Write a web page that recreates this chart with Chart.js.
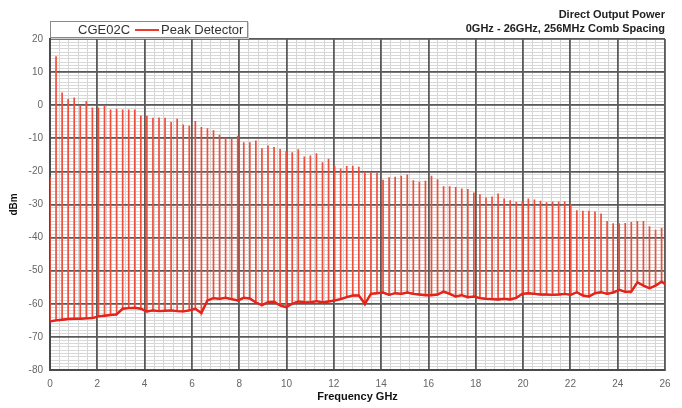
<!DOCTYPE html>
<html lang="en">
<head>
<meta charset="UTF-8">
<title>CGE02C Direct Output Power</title>
<script src="https://cdn.jsdelivr.net/npm/chart.js"></script>
<style>
  body { margin: 0; background: #fff; font-family: "Liberation Sans", Arial, sans-serif; }
  .wrap { position: relative; width: 682px; height: 408px; }
  .legend {
    position: absolute; left: 50px; top: 21px; width: 196px; height: 15px;
    border: 1px solid #8a8a8a; background: #fff; box-shadow: 1px 1px 0 #cfcfcf;
    font-size: 13px; line-height: 15px; color: #333; white-space: nowrap;
  }
  .legend .name { position: absolute; left: 27px; top: 0; }
  .legend .swatch { position: absolute; left: 84px; top: 7px; width: 24px; height: 2px; background: #ee3a2c; }
  .legend .label { position: absolute; left: 110px; top: 0; }
  .title {
    position: absolute; right: 17px; top: 7px; text-align: right;
    font-size: 11px; font-weight: bold; line-height: 14px; color: #222;
  }
</style>
</head>
<body>
<div class="wrap">
  <canvas id="chart" width="682" height="408"></canvas>
  <div class="legend"><span class="name">CGE02C</span><span class="swatch"></span><span class="label">Peak Detector</span></div>
  <div class="title">Direct Output Power<br>0GHz - 26GHz, 256MHz Comb Spacing</div>
</div>
<script>
  // comb tooth frequencies (GHz), 256 MHz spacing
  const combFreq = [0, 0.256, 0.512, 0.768, 1.024, 1.28, 1.536, 1.792, 2.048, 2.304, 2.56, 2.816,
    3.072, 3.328, 3.584, 3.84, 4.096, 4.352, 4.608, 4.864, 5.12, 5.376, 5.632, 5.888, 6.144, 6.4,
    6.656, 6.912, 7.168, 7.424, 7.68, 7.936, 8.192, 8.448, 8.704, 8.96, 9.216, 9.472, 9.728, 9.984,
    10.24, 10.496, 10.752, 11.008, 11.264, 11.52, 11.776, 12.032, 12.288, 12.544, 12.8, 13.056,
    13.312, 13.568, 13.824, 14.08, 14.336, 14.592, 14.848, 15.104, 15.36, 15.616, 15.872, 16.128,
    16.384, 16.64, 16.896, 17.152, 17.408, 17.664, 17.92, 18.176, 18.432, 18.688, 18.944, 19.2,
    19.456, 19.712, 19.968, 20.224, 20.48, 20.736, 20.992, 21.248, 21.504, 21.76, 22.016, 22.272,
    22.528, 22.784, 23.04, 23.296, 23.552, 23.808, 24.064, 24.32, 24.576, 24.832, 25.088, 25.344,
    25.6, 25.856];

  // peak level of each tooth (dBm)
  const peakDbm = [-21.7, 14.8, 3.8, 1.9, 2.3, -0.2, 1.3, -0.7, -0.7, -0.1, -1.3, -1.1,
    -1.3, -1.3, -1.3, -3.1, -3.2, -3.8, -3.7, -3.8, -5.1, -4.1, -5.8, -6.2, -4.8, -6.6,
    -7.0, -7.6, -8.9, -9.8, -10.2, -9.2, -11.2, -11.2, -10.7, -13.0, -12.2, -12.6, -13.2, -13.9,
    -14.2, -13.3, -15.5, -15.2, -14.5, -17.2, -16.2, -18.3, -19.1, -18.4, -18.3, -18.6,
    -20.1, -20.3, -20.4, -22.5, -21.8, -21.6, -21.3, -20.9, -22.7, -23.1, -22.8, -21.3,
    -22.4, -24.5, -24.5, -24.7, -25.2, -25.3, -26.4, -26.9, -27.9, -27.6, -26.7, -28.2,
    -28.7, -29.2, -29.0, -28.2, -28.5, -28.9, -29.3, -29.1, -29.1, -29.0, -29.9, -31.7,
    -31.9, -31.9, -32.1, -32.7, -35.0, -35.7, -35.7, -35.6, -35.3, -35.0, -35.0, -36.6,
    -37.6, -37.1];

  // noise floor under each tooth (dBm)
  const floorDbm = [-65.3, -65.0, -64.8, -64.6, -64.5, -64.5, -64.4, -64.3, -63.8, -63.6, -63.4, -63.2,
    -61.5, -61.3, -61.2, -61.5, -62.3, -62.0, -62.2, -62.1, -62.0, -62.2, -62.3, -62.0, -61.5, -62.8,
    -59.0, -58.3, -58.5, -58.2, -58.6, -59.0, -58.2, -58.4, -59.6, -60.4, -59.5, -59.4, -60.5, -61.0,
    -60.0, -59.3, -59.5, -59.6, -59.2, -59.6, -59.3, -59.0, -58.6, -58.0, -57.5, -57.5,
    -60.0, -57.0, -56.8, -56.6, -57.3, -56.8, -57.0, -56.6, -57.0, -57.2, -57.4, -57.4,
    -57.2, -56.3, -57.0, -57.8, -57.4, -58.0, -57.8, -58.3, -58.5, -58.6, -58.7, -58.5,
    -58.7, -58.2, -57.0, -56.8, -57.0, -57.2, -57.2, -57.3, -57.2, -57.0, -57.3, -56.5,
    -57.5, -57.8, -56.8, -56.5, -57.0, -56.6, -55.8, -56.4, -56.3, -53.5, -54.5, -55.3,
    -54.5, -53.3];
  const endFreq = 26;
  const endFloor = -54.0;

  const xTickLabels = ['0', '2', '4', '6', '8', '10', '12', '14', '16', '18', '20', '22', '24', '26'];
  const yTickLabels = ['-80', '-70', '-60', '-50', '-40', '-30', '-20', '-10', '0', '10', '20'];

  // spikes: floor -> peak -> floor at every tooth
  const spikes = [];
  combFreq.forEach((f, i) => {
    spikes.push({ x: f, y: floorDbm[i] });
    spikes.push({ x: f, y: peakDbm[i] });
    spikes.push({ x: f, y: floorDbm[i] });
  });
  spikes.push({ x: endFreq, y: endFloor });
  // noise floor drawn heavier on top
  const floorLine = combFreq.map((f, i) => ({ x: f, y: floorDbm[i] }));
  floorLine.push({ x: endFreq, y: endFloor });

  const near = (v, step) => Math.abs(v / step - Math.round(v / step)) < 1e-6;
  const tickFont = { family: 'Liberation Sans', size: 10 };

  new Chart(document.getElementById('chart').getContext('2d'), {
    type: 'line',
    data: {
      datasets: [
        { label: 'floor', data: floorLine, order: 0, borderColor: '#e4231b', borderWidth: 2.4,
          pointRadius: 0, tension: 0, fill: false },
        { label: 'Peak Detector', data: spikes, order: 1, borderColor: '#f04e3a', borderWidth: 1.7,
          pointRadius: 0, tension: 0, fill: false }
      ]
    },
    options: {
      responsive: false,
      animation: false,
      layout: { padding: { top: 39, right: 17, left: 0, bottom: 0 } },
      plugins: { legend: { display: false }, tooltip: { enabled: false } },
      scales: {
        // minor grids first so the major lines paint over them
        xm: {
          type: 'linear', position: 'bottom', min: 0, max: 26,
          afterFit: (s) => { s.height = 0; },
          border: { display: false },
          grid: { drawTicks: false, color: '#d4d4d4', lineWidth: 1 },
          ticks: { display: false, stepSize: 0.4, maxTicksLimit: 1000, autoSkip: false }
        },
        ym: {
          type: 'linear', position: 'left', min: -80, max: 20,
          afterFit: (s) => { s.width = 0; },
          border: { display: false },
          grid: { drawTicks: false, color: '#d8d8d8', lineWidth: 1 },
          ticks: { display: false, stepSize: 1, maxTicksLimit: 1000, autoSkip: false }
        },
        x: {
          type: 'linear',
          min: 0, max: 26,
          afterFit: (s) => { s.height = 38; },
          border: { color: '#4a4a4a', width: 2 },
          grid: { drawTicks: false, color: '#5a5a5a', lineWidth: 1.8 },
          ticks: {
            stepSize: 2,
            maxRotation: 0,
            padding: 8,
            color: '#666',
            font: tickFont,
            callback: (v) => xTickLabels[Math.round(v / 2)]
          },
          title: {
            display: true, text: 'Frequency GHz', color: '#111',
            font: { family: 'Liberation Sans', size: 11, weight: 'bold' },
            padding: { top: 0, bottom: 4 }
          }
        },
        y: {
          min: -80, max: 20,
          afterFit: (s) => { s.width = 50; },
          border: { color: '#4a4a4a', width: 2 },
          grid: { drawTicks: false, color: '#5a5a5a', lineWidth: 1.8 },
          ticks: {
            stepSize: 10,
            padding: 7,
            color: '#666',
            font: tickFont,
            callback: (v) => yTickLabels[Math.round((v + 80) / 10)]
          },
          title: {
            display: true, text: 'dBm', color: '#111',
            font: { family: 'Liberation Sans', size: 10, weight: 'bold' },
            padding: { top: 8, bottom: 0 }
          }
        }
      }
    }
  });
</script>
</body>
</html>
